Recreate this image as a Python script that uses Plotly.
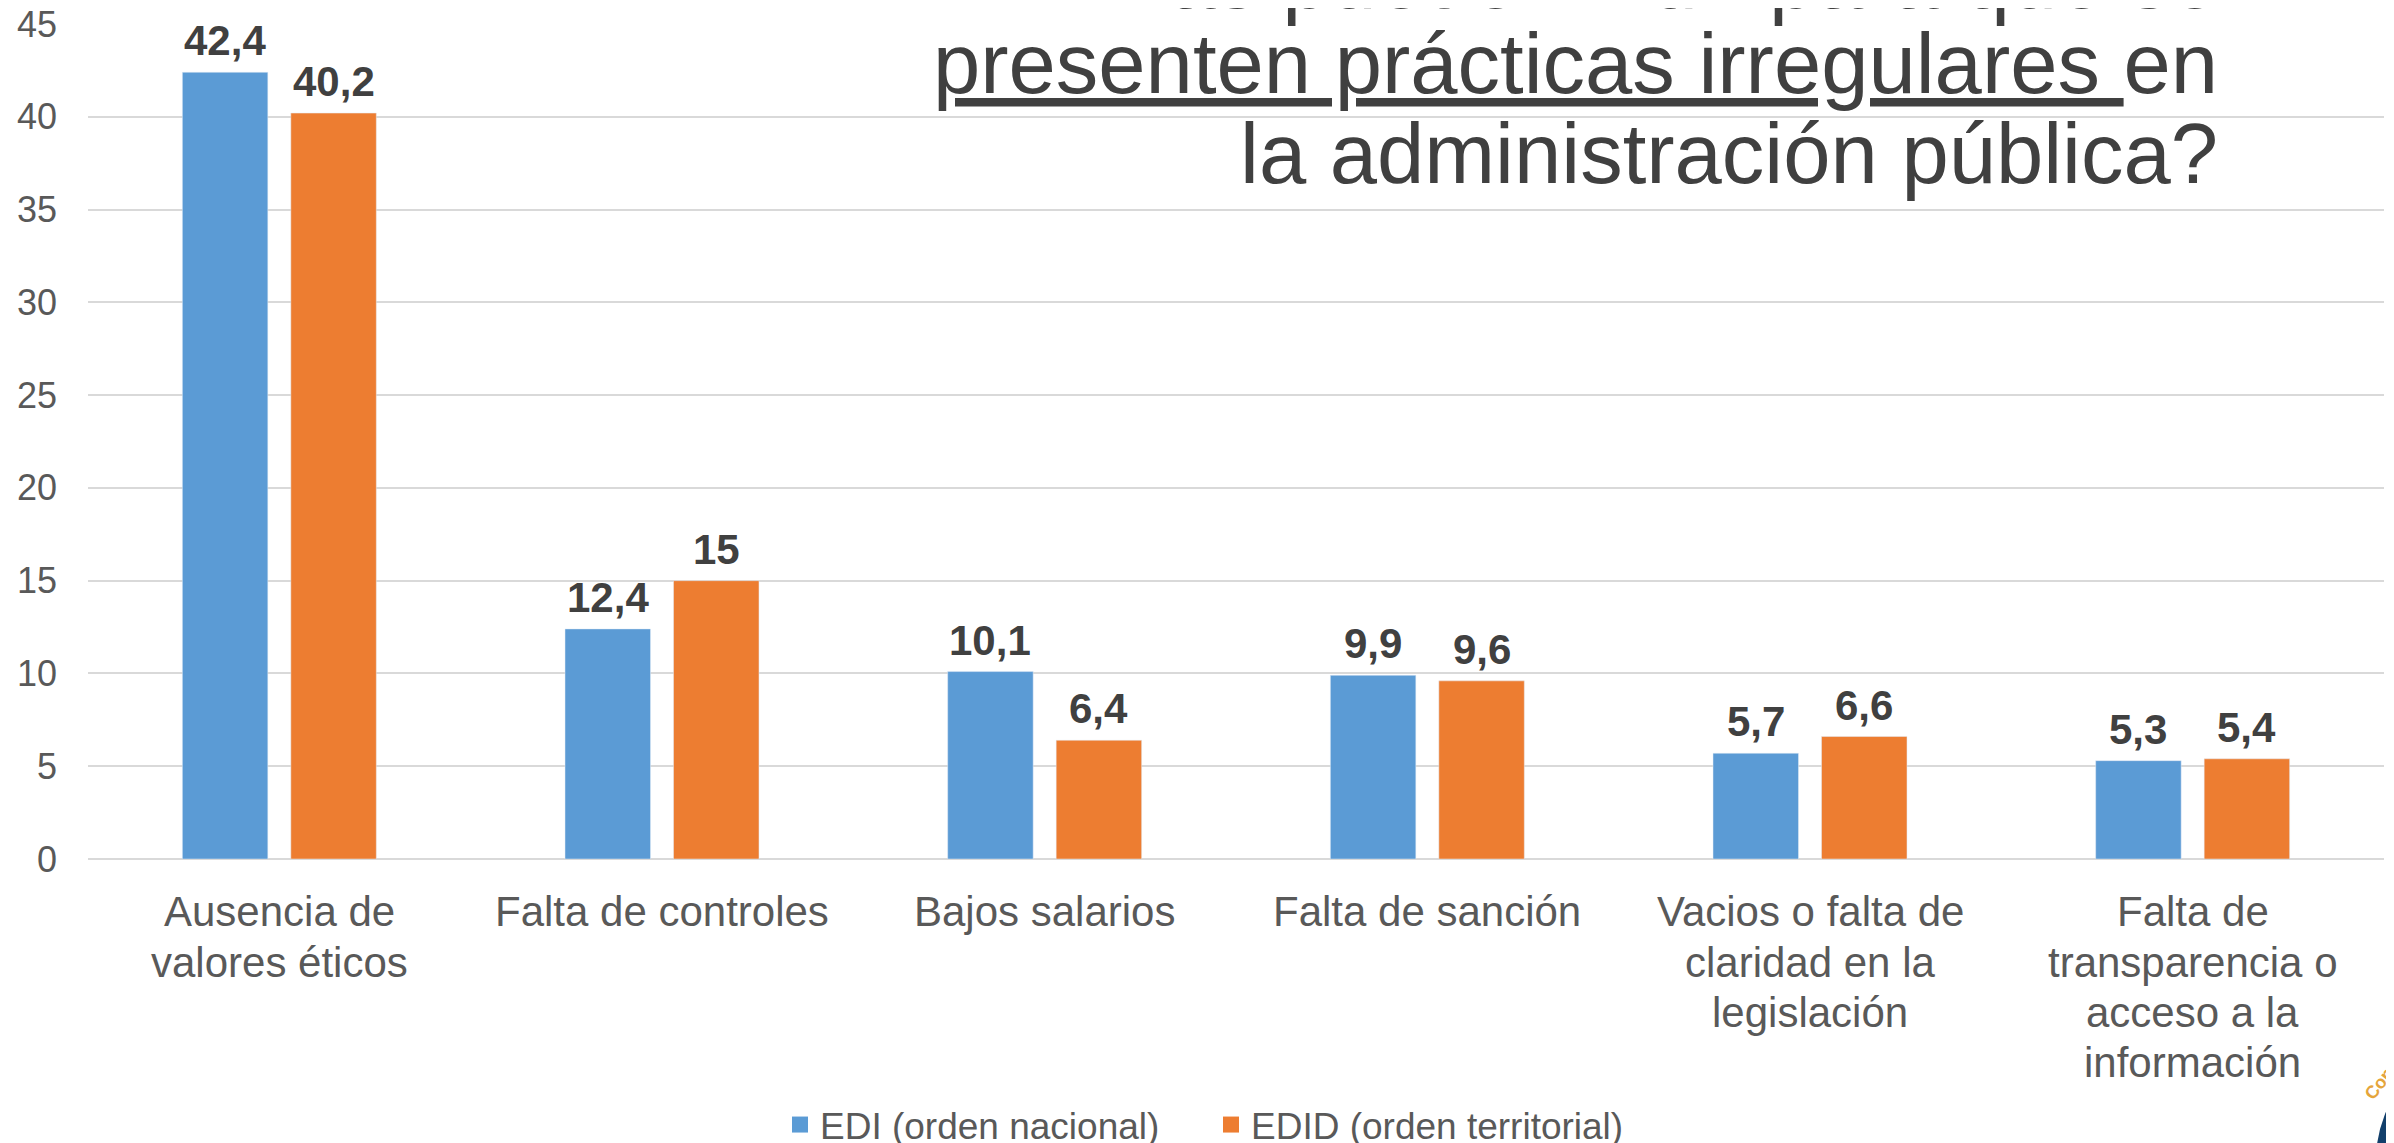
import plotly.graph_objects as go

categories = [
    "Ausencia de<br>valores éticos",
    "Falta de controles",
    "Bajos salarios",
    "Falta de sanción",
    "Vacios o falta de<br>claridad en la<br>legislación",
    "Falta de<br>transparencia o<br>acceso a la<br>información",
]
edi_values = [42.4, 12.4, 10.1, 9.9, 5.7, 5.3]
edid_values = [40.2, 15, 6.4, 9.6, 6.6, 5.4]
series_names = ["EDI (orden nacional)", "EDID (orden territorial)"]
series_colors = ["#5B9BD5", "#ED7D31"]
y_ticks = [0, 5, 10, 15, 20, 25, 30, 35, 40, 45]
title_lines = [
    "más puede influir para que se",
    "<span style='text-decoration:underline'>presenten prácticas irregulares </span>en",
    "la administración pública?",
]

FONT = "Liberation Sans, Arial, sans-serif"
# the page body has an 8px margin: the figure starts at (8, 8) on screen
OFF = 8
W, H = 2394 - OFF, 1143 - OFF
PLOT_L, PLOT_R, PLOT_T, PLOT_B = 88, 2384, 24, 859  # screen pixels
L, T = PLOT_L - OFF, PLOT_T - OFF
R = W - (PLOT_R - OFF)
B = H - (PLOT_B - OFF)
PW, PH = PLOT_R - PLOT_L, PLOT_B - PLOT_T


def px(x):
    return (x - PLOT_L) / PW


def py(y):
    return (PLOT_B - y) / PH


def fmt(v):
    return f"{v:g}".replace(".", ",")


fig = go.Figure()
for name, vals, color in zip(series_names, [edi_values, edid_values], series_colors):
    fig.add_trace(go.Bar(
        x=categories, y=vals, name=name, marker_color=color,
        showlegend=False, cliponaxis=False,
    ))
# legend entries with larger square swatches
for name, color in zip(series_names, series_colors):
    fig.add_trace(go.Scatter(
        x=[None], y=[None], mode="markers", name=name,
        marker=dict(symbol="square", size=19, color=color),
    ))

annotations = []
# value labels
for vals, shift in [(edi_values, -54.25), (edid_values, 54.25)]:
    for cat, v in zip(categories, vals):
        annotations.append(dict(
            text=fmt(v), x=cat, y=v, xref="x", yref="y",
            xshift=shift, yshift=6, xanchor="center", yanchor="bottom",
            showarrow=False,
            font=dict(family=FONT, size=42, color="#404040", weight="bold"),
        ))
# category labels (one annotation per line for tighter line spacing)
first_baseline, line_step = 928, 50
for cat in categories:
    for i, line in enumerate(cat.split("<br>")):
        annotations.append(dict(
            text=line, x=cat, xref="x", yref="paper",
            y=py(first_baseline + i * line_step + 9.5),
            xanchor="center", yanchor="bottom", showarrow=False,
            font=dict(family=FONT, size=42, color="#595959"),
        ))
# title
title_bottoms = [28, 113, 203]
for line, yb in zip(title_lines, title_bottoms):
    annotations.append(dict(
        text=line, xref="paper", yref="paper", x=px(2220), y=py(yb),
        xanchor="right", yanchor="bottom", showarrow=False, align="right",
        font=dict(family=FONT, size=85, color="#404040"),
    ))
# logo fragment
annotations.append(dict(
    text="<b>Con</b>", xref="paper", yref="paper", x=px(2379), y=py(1084),
    xanchor="center", yanchor="middle", showarrow=False, textangle=-52,
    font=dict(family=FONT, size=18, color="#E5A53B"),
))

fig.update_layout(
    width=W, height=H,
    margin=dict(l=L, r=R, t=T, b=B, autoexpand=False),
    paper_bgcolor="white", plot_bgcolor="white",
    barmode="group", bargap=0.433, bargroupgap=0.212,
    font=dict(family=FONT, color="#595959"),
    xaxis=dict(
        showgrid=False, showline=False, zeroline=False, ticks="",
        showticklabels=False,
    ),
    yaxis=dict(
        range=[0, 45], tickvals=y_ticks, showline=False,
        showgrid=True, gridcolor="#D9D9D9", gridwidth=2,
        zeroline=True, zerolinecolor="#D9D9D9", zerolinewidth=2,
        tickfont=dict(family=FONT, size=36, color="#595959"),
        ticklabelstandoff=30, ticklabeloverflow="allow",
    ),
    legend=dict(
        orientation="h", x=px(1211), xanchor="center", y=py(1125), yanchor="middle",
        font=dict(family=FONT, size=37, color="#595959"),
        entrywidth=386, bgcolor="rgba(0,0,0,0)",
    ),
    annotations=annotations,
    shapes=[dict(
        type="circle", xref="paper", yref="paper",
        x0=px(2497 - 115), x1=px(2497 + 115), y0=py(1160 + 115), y1=py(1160 - 115),
        line=dict(color="#123F6B", width=12),
    )],
    showlegend=True,
)

fig.write_html("out.html")
